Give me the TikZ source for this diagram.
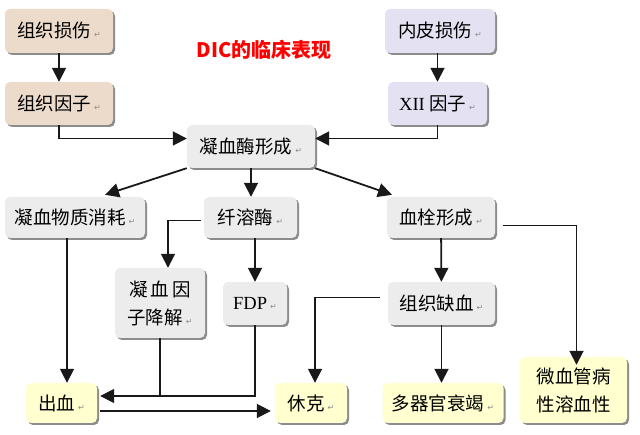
\documentclass[tikz,border=0pt]{standalone}
\usepackage{fontspec}
\setmainfont{Liberation Serif}
\newfontfamily\cjk{Noto Sans CJK SC}
\newfontfamily\dejavu{DejaVu Sans}
\usetikzlibrary{arrows.meta,shadows}
\definecolor{beige}{RGB}{236,219,202}
\definecolor{lav}{RGB}{228,226,242}
\definecolor{lgray}{RGB}{236,236,236}
\definecolor{lyel}{RGB}{255,255,208}
\newcommand\pmk{\,{\dejavu\fontsize{8}{8}\selectfont\color{black!45}↵}}
\tikzset{
  box/.style={rounded corners=5pt, inner sep=0pt, align=center,
    font=\cjk\fontsize{18.5}{28}\selectfont,
    drop shadow={shadow xshift=2pt, shadow yshift=-2pt, fill=black!45, opacity=1}},
  arr/.style={-{Triangle[length=14pt,width=14pt]}, line width=1.8pt, black!90},
  ln/.style={line width=1.8pt, black!90}
}
\begin{document}
\begin{tikzpicture}[x=1pt,y=-1pt]
\useasboundingbox (0,0) rectangle (640,435);
\node[text=red, font=\cjk\bfseries\fontsize{20}{22}\selectfont] (t) at (264,50) {DIC的临床表现};

\node[box, fill=beige, minimum width=108pt, minimum height=44pt] (a1) at (59,31) {组织损伤\pmk};
\node[box, fill=beige, minimum width=108pt, minimum height=43pt] (a2) at (59,103.5) {组织因子\pmk};
\node[box, fill=lav, minimum width=110pt, minimum height=44pt] (b1) at (440,31) {内皮损伤\pmk};
\node[box, fill=lav, minimum width=99pt, minimum height=43pt] (b2) at (437.5,103.5) {{\rmfamily XII} 因子\pmk};
\node[box, fill=lgray, minimum width=128pt, minimum height=43pt] (c) at (251,146.5) {凝血酶形成\pmk};

\node[box, fill=lgray, minimum width=140pt, minimum height=41pt] (d1) at (75,217.5) {凝血物质消耗\pmk};
\node[box, fill=lgray, minimum width=93pt, minimum height=41pt] (d2) at (250.5,217.5) {纤溶酶\pmk};
\node[box, fill=lgray, minimum width=108pt, minimum height=41pt] (d3) at (441,217.5) {血栓形成\pmk};

\node[box, fill=lgray, minimum width=90pt, minimum height=70pt] (e1) at (160,303) {凝\,血\,因\\子降解\pmk};
\node[box, fill=lgray, minimum width=64pt, minimum height=43pt] (e2) at (255,303.5) {{\rmfamily FDP}\pmk};
\node[box, fill=lgray, minimum width=107pt, minimum height=43pt] (e3) at (441.5,303.5) {组织缺血\pmk};

\node[box, fill=lyel, minimum width=71pt, minimum height=40pt] (f1) at (61.5,403) {出血\pmk};
\node[box, fill=lyel, minimum width=72pt, minimum height=40pt] (f2) at (311,403) {休克\pmk};
\node[box, fill=lyel, minimum width=121pt, minimum height=40pt] (f3) at (443,403) {多器官衰竭\pmk};
\node[box, fill=lyel, minimum width=107pt, minimum height=66pt] (f4) at (573.5,390) {微血管病\\性溶血性};

\draw[arr] (a1) -- (a2);
\draw[arr] (b1.south -| b2.north) -- (b2.north);
\draw[arr] (a2.south) |- ([yshift=8pt]c.west);
\draw[arr] (b2.south) |- ([yshift=8pt]c.east);
\draw[arr] (c.south west) -- ([xshift=30pt,yshift=2pt]d1.north);
\draw[arr] (c.south) -- (c.south |- d2.north);
\draw[arr] (c.south east) -- ([xshift=-49pt,yshift=2pt]d3.north);
\draw[arr] ([xshift=-3pt,yshift=-3pt]d2.west) -| ([xshift=8pt]e1.north);
\draw[arr] (e2.north |- d2.south) -- (e2.north);
\draw[arr] (d3) -- (e3);
\draw[arr] ([xshift=8pt,yshift=-8pt]d3.east) -| ([xshift=3pt,yshift=-8pt]f4.north);
\draw[arr] ([xshift=-8pt,yshift=6pt]e3.west) -| ([xshift=4pt]f2.north);
\draw[arr] (e3.south) -- (e3.south |- f3.north);
\draw[arr] ([xshift=-8pt]d1.south) -- ([xshift=-8pt]d1.south |- f1.north);
\coordinate (hj) at ([yshift=7pt]f1.east);
\draw[arr] (e2.south) |- ([xshift=3pt]hj);
\draw[ln] (e1.south) -- (e1.south |- hj);
\draw[arr] ([xshift=3pt,yshift=-8pt]f1.east) -- ([xshift=-4pt,yshift=-8pt]f2.west);
\end{tikzpicture}
\end{document}
